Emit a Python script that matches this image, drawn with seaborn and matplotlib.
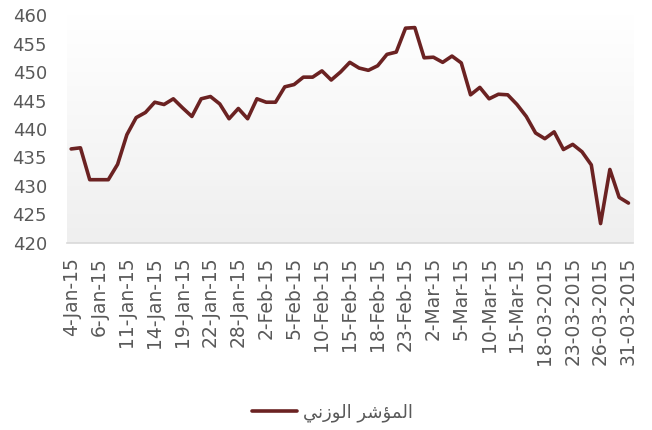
import numpy as np
import pandas as pd
import seaborn as sns
import matplotlib.pyplot as plt
from matplotlib.colors import LinearSegmentedColormap

# --------------------------------------------------------------
# Data
# --------------------------------------------------------------
index_values = [
    436.5, 436.7, 431.1, 431.1, 431.1, 433.8, 439.0, 442.0, 442.9, 444.7,
    444.3, 445.3, 443.7, 442.2, 445.3, 445.7, 444.4, 441.8, 443.6, 441.8,
    445.3, 444.7, 444.7, 447.4, 447.8, 449.1, 449.1, 450.2, 448.6, 450.0,
    451.7, 450.7, 450.3, 451.1, 453.1, 453.5, 457.7, 457.8, 452.5, 452.6,
    451.7, 452.8, 451.6, 446.0, 447.3, 445.3, 446.1, 446.0, 444.3, 442.2,
    439.3, 438.3, 439.5, 436.4, 437.3, 436.0, 433.7, 423.4, 432.9, 428.0,
    427.0,
]
tick_labels = [
    "4-Jan-15", "6-Jan-15", "11-Jan-15", "14-Jan-15", "19-Jan-15",
    "22-Jan-15", "28-Jan-15", "2-Feb-15", "5-Feb-15", "10-Feb-15",
    "15-Feb-15", "18-Feb-15", "23-Feb-15", "2-Mar-15", "5-Mar-15",
    "10-Mar-15", "15-Mar-15", "18-03-2015", "23-03-2015", "26-03-2015",
    "31-03-2015",
]
legend_label = "المؤشر الوزني"

df = pd.DataFrame({"pos": np.arange(len(index_values)), "value": index_values})


# matplotlib has no Arabic shaping: pick contextual forms and reverse
FORMS = {  # isolated, final, initial, medial
    "ا": ("\ufe8d", "\ufe8e", None, None),
    "ل": ("\ufedd", "\ufede", "\ufedf", "\ufee0"),
    "م": ("\ufee1", "\ufee2", "\ufee3", "\ufee4"),
    "ؤ": ("\ufe85", "\ufe86", None, None),
    "ش": ("\ufeb5", "\ufeb6", "\ufeb7", "\ufeb8"),
    "ر": ("\ufead", "\ufeae", None, None),
    "و": ("\ufeed", "\ufeee", None, None),
    "ز": ("\ufeaf", "\ufeb0", None, None),
    "ن": ("\ufee5", "\ufee6", "\ufee7", "\ufee8"),
    "ي": ("\ufef1", "\ufef2", "\ufef3", "\ufef4"),
}


def shape_arabic(text):
    out = []
    for i, ch in enumerate(text):
        if ch not in FORMS:
            out.append(ch)
            continue
        iso, fin, ini, med = FORMS[ch]
        prev = text[i - 1] if i > 0 else ""
        nxt = text[i + 1] if i + 1 < len(text) else ""
        pj = prev in FORMS and FORMS[prev][2] is not None
        nj = nxt in FORMS
        if pj and nj and med:
            out.append(med)
        elif pj:
            out.append(fin)
        elif nj and ini:
            out.append(ini)
        else:
            out.append(iso)
    return "".join(reversed(out))


# --------------------------------------------------------------
# Plot
# --------------------------------------------------------------
sns.set_style("white")
plt.rcParams["font.family"] = ["DejaVu Sans"]

fig = plt.figure(figsize=(6.52, 4.30), dpi=100)
ax = fig.add_axes([0.102, 0.435, 0.869, 0.530])

# gradient plot area
cmap = LinearSegmentedColormap.from_list("bg", ["#ffffff", "#efefef"])
ax.imshow(np.linspace(0, 1, 256).reshape(-1, 1), extent=[0, 1, 0, 1],
          transform=ax.transAxes, aspect="auto", cmap=cmap, zorder=0)

sns.lineplot(data=df, x="pos", y="value", color="#6b2222", linewidth=2.6,
             ax=ax, label=shape_arabic(legend_label), zorder=3)

ax.set_xlim(-0.5, len(index_values) - 0.5)
ax.set_ylim(420, 460)
ax.set_yticks(range(420, 461, 5))
ax.set_xticks(range(0, len(index_values), 3))
ax.set_xticklabels(tick_labels, rotation=90)
ax.set_xlabel("")
ax.set_ylabel("")
ax.tick_params(axis="y", length=0, pad=14, labelsize=13, labelcolor="#595959")
ax.tick_params(axis="x", length=0, pad=10, labelsize=13.5, labelcolor="#595959")

for side in ["top", "right", "left"]:
    ax.spines[side].set_visible(False)
ax.spines["bottom"].set_color("#d9d9d9")
ax.spines["bottom"].set_linewidth(1.2)

ax.get_legend().remove()
handles, labels = ax.get_legend_handles_labels()
fig.legend(handles, labels, loc="center", bbox_to_anchor=(0.51, 0.04),
           frameon=False, fontsize=13, handlelength=2.5, handletextpad=0.3,
           labelcolor="#595959")

fig.savefig("out.png", dpi=100)
